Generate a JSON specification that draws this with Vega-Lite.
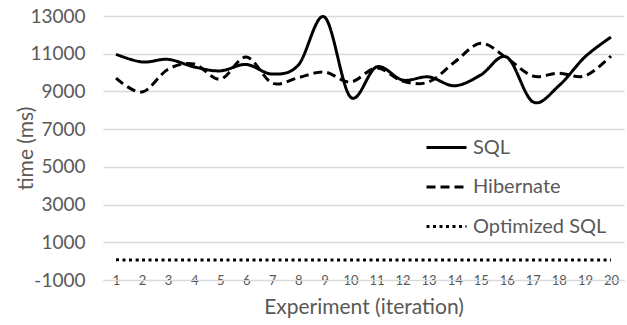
{
  "$schema": "https://vega.github.io/schema/vega-lite/v6.json",
  "autosize": {"type": "none"},
  "padding": {"left": 103, "top": 16, "right": 3, "bottom": 45},
  "width": 521,
  "height": 264,
  "background": "white",
  "config": {
    "view": {"stroke": null},
    "font": "Lato",
    "axis": {"labelColor": "#595959", "titleColor": "#595959", "titleFontWeight": "normal", "labelFont": "Lato", "titleFont": "Lato"},
    "legend": {"labelColor": "#595959", "labelFont": "Lato"}
  },
  "data": {
    "values": [
      {"x": 1, "series": "SQL", "time": 10970},
      {"x": 2, "series": "SQL", "time": 10560},
      {"x": 3, "series": "SQL", "time": 10700},
      {"x": 4, "series": "SQL", "time": 10300},
      {"x": 5, "series": "SQL", "time": 10090},
      {"x": 6, "series": "SQL", "time": 10430},
      {"x": 7, "series": "SQL", "time": 9920},
      {"x": 8, "series": "SQL", "time": 10400},
      {"x": 9, "series": "SQL", "time": 12950},
      {"x": 10, "series": "SQL", "time": 8700},
      {"x": 11, "series": "SQL", "time": 10300},
      {"x": 12, "series": "SQL", "time": 9600},
      {"x": 13, "series": "SQL", "time": 9770},
      {"x": 14, "series": "SQL", "time": 9300},
      {"x": 15, "series": "SQL", "time": 9870},
      {"x": 16, "series": "SQL", "time": 10820},
      {"x": 17, "series": "SQL", "time": 8450},
      {"x": 18, "series": "SQL", "time": 9300},
      {"x": 19, "series": "SQL", "time": 10830},
      {"x": 20, "series": "SQL", "time": 11880},
      {"x": 1, "series": "Hibernate", "time": 9700},
      {"x": 2, "series": "Hibernate", "time": 8970},
      {"x": 3, "series": "Hibernate", "time": 10180},
      {"x": 4, "series": "Hibernate", "time": 10450},
      {"x": 5, "series": "Hibernate", "time": 9650},
      {"x": 6, "series": "Hibernate", "time": 10820},
      {"x": 7, "series": "Hibernate", "time": 9440},
      {"x": 8, "series": "Hibernate", "time": 9730},
      {"x": 9, "series": "Hibernate", "time": 10030},
      {"x": 10, "series": "Hibernate", "time": 9500},
      {"x": 11, "series": "Hibernate", "time": 10240},
      {"x": 12, "series": "Hibernate", "time": 9550},
      {"x": 13, "series": "Hibernate", "time": 9500},
      {"x": 14, "series": "Hibernate", "time": 10560},
      {"x": 15, "series": "Hibernate", "time": 11550},
      {"x": 16, "series": "Hibernate", "time": 10770},
      {"x": 17, "series": "Hibernate", "time": 9820},
      {"x": 18, "series": "Hibernate", "time": 9970},
      {"x": 19, "series": "Hibernate", "time": 9820},
      {"x": 20, "series": "Hibernate", "time": 10880},
      {"x": 1, "series": "Optimized SQL", "time": 70},
      {"x": 2, "series": "Optimized SQL", "time": 60},
      {"x": 3, "series": "Optimized SQL", "time": 60},
      {"x": 4, "series": "Optimized SQL", "time": 60},
      {"x": 5, "series": "Optimized SQL", "time": 60},
      {"x": 6, "series": "Optimized SQL", "time": 60},
      {"x": 7, "series": "Optimized SQL", "time": 60},
      {"x": 8, "series": "Optimized SQL", "time": 60},
      {"x": 9, "series": "Optimized SQL", "time": 60},
      {"x": 10, "series": "Optimized SQL", "time": 60},
      {"x": 11, "series": "Optimized SQL", "time": 60},
      {"x": 12, "series": "Optimized SQL", "time": 60},
      {"x": 13, "series": "Optimized SQL", "time": 60},
      {"x": 14, "series": "Optimized SQL", "time": 60},
      {"x": 15, "series": "Optimized SQL", "time": 60},
      {"x": 16, "series": "Optimized SQL", "time": 60},
      {"x": 17, "series": "Optimized SQL", "time": 60},
      {"x": 18, "series": "Optimized SQL", "time": 60},
      {"x": 19, "series": "Optimized SQL", "time": 60},
      {"x": 20, "series": "Optimized SQL", "time": 60}
    ]
  },
  "mark": {"type": "line", "interpolate": "cardinal", "strokeWidth": 3, "color": "black", "strokeCap": "butt"},
  "encoding": {
    "x": {
      "field": "x", "type": "ordinal",
      "scale": {"type": "point", "padding": 0.5},
      "axis": {
        "title": "Experiment (iteration)", "titleFontSize": 21, "titlePadding": 9,
        "labelAngle": 0, "labelFontSize": 13, "labelBaseline": "middle", "labelPadding": 0,
        "ticks": false, "domainColor": "#d9d9d9", "domainWidth": 1, "grid": false
      }
    },
    "y": {
      "field": "time", "type": "quantitative",
      "scale": {"domain": [-1000, 13000], "nice": false, "zero": false},
      "axis": {
        "title": "time (ms)", "titleFontSize": 21, "titlePadding": -7,
        "values": [-1000, 1000, 3000, 5000, 7000, 9000, 11000, 13000],
        "labelExpr": "'' + datum.value", "labelFontSize": 19, "labelPadding": 18,
        "ticks": false, "domain": false, "gridColor": "#d9d9d9", "gridWidth": 1.3
      }
    },
    "strokeDash": {
      "field": "series", "type": "nominal",
      "scale": {"domain": ["SQL", "Hibernate", "Optimized SQL"], "range": [[1, 0], [9, 5], [3, 3.5]]},
      "legend": {
        "title": null, "orient": "none", "legendX": 322, "legendY": 110,
        "symbolType": "stroke", "symbolSize": 1600, "symbolStrokeWidth": 3, "symbolStrokeColor": "black",
        "labelFontSize": 20, "labelOffset": 5, "rowPadding": 7.5, "padding": 0
      }
    }
  }
}
